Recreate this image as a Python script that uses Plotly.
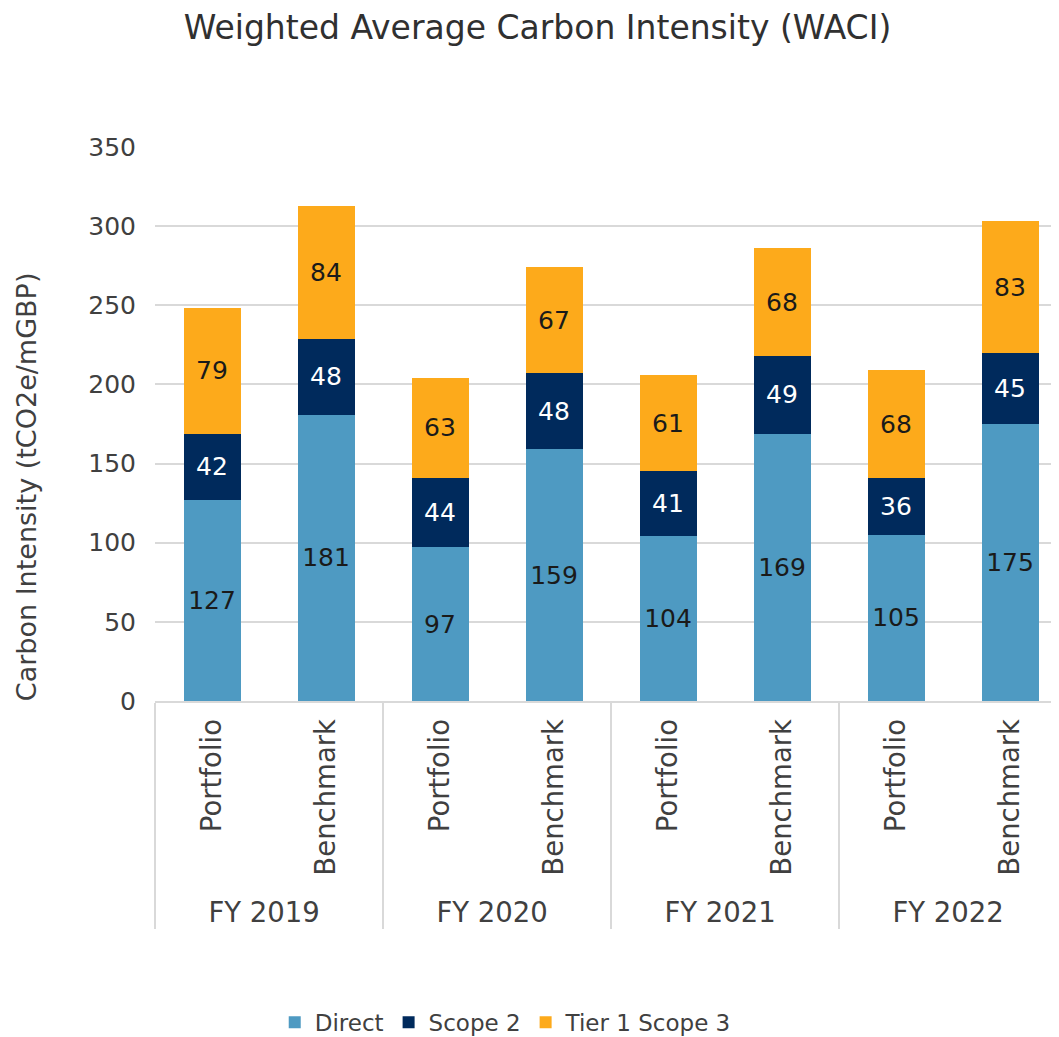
import plotly.graph_objects as go

years = ["FY 2019", "FY 2019", "FY 2020", "FY 2020", "FY 2021", "FY 2021", "FY 2022", "FY 2022"]
kinds = ["Portfolio", "Benchmark"] * 4

direct = [127, 181, 97, 159, 104, 169, 105, 175]
scope2 = [42, 48, 44, 48, 41, 49, 36, 45]
scope3 = [79, 84, 63, 67, 61, 68, 68, 83]

series = [
    ("Direct", direct, "#4E9AC2", "#1a1a1a"),
    ("Scope 2", scope2, "#002A5C", "#ffffff"),
    ("Tier 1 Scope 3", scope3, "#FDAA1B", "#1a1a1a"),
]

font_family = "DejaVu Sans"
grey = "#404040"

fig = go.Figure()

for name, vals, color, txt_color in series:
    fig.add_trace(go.Bar(
        x=[years, kinds],
        y=vals,
        name=name,
        marker=dict(color=color, line=dict(width=0)),
        text=vals,
        textposition="inside",
        insidetextanchor="middle",
        textangle=0,
        constraintext="none",
        textfont=dict(size=25, color=txt_color, family=font_family),
    ))

fig.update_layout(
    barmode="stack",
    bargap=0.5,
    width=1059,
    height=1037,
    plot_bgcolor="white",
    paper_bgcolor="white",
    font=dict(family=font_family, size=25, color=grey),
    title=dict(
        text="Weighted Average Carbon Intensity (WACI)",
        x=0.5,
        xanchor="center",
        y=0.981,
        yanchor="middle",
        font=dict(size=33, color="#303030"),
    ),
    margin=dict(l=147, r=0, t=139, b=344),
    xaxis=dict(
        type="multicategory",
        tickangle=-90,
        showline=True,
        linecolor="#D9D9D9",
        linewidth=2,
        showdividers=True,
        dividercolor="#D9D9D9",
        dividerwidth=2,
        range=[-0.5, 7.5],
        tickfont=dict(size=27.5, color=grey),
        ticklabelstandoff=5,
    ),
    yaxis=dict(
        range=[0, 350],
        dtick=50,
        showgrid=True,
        gridcolor="#D9D9D9",
        gridwidth=2,
        zeroline=False,
        tickfont=dict(size=25, color=grey),
        ticklabelstandoff=18,
    ),
    legend=dict(
        orientation="h",
        x=0.47,
        xanchor="center",
        xref="container",
        y=0.022,
        yref="container",
        yanchor="middle",
        font=dict(size=23, color=grey),
        traceorder="normal",
    ),
    annotations=[dict(
        text="Carbon Intensity (tCO2e/mGBP)",
        textangle=-90,
        xref="paper",
        x=-0.1414,
        xanchor="center",
        yref="paper",
        y=0.386,
        yanchor="middle",
        showarrow=False,
        font=dict(size=27, color=grey),
    )],
)

fig.write_html("out.html")
